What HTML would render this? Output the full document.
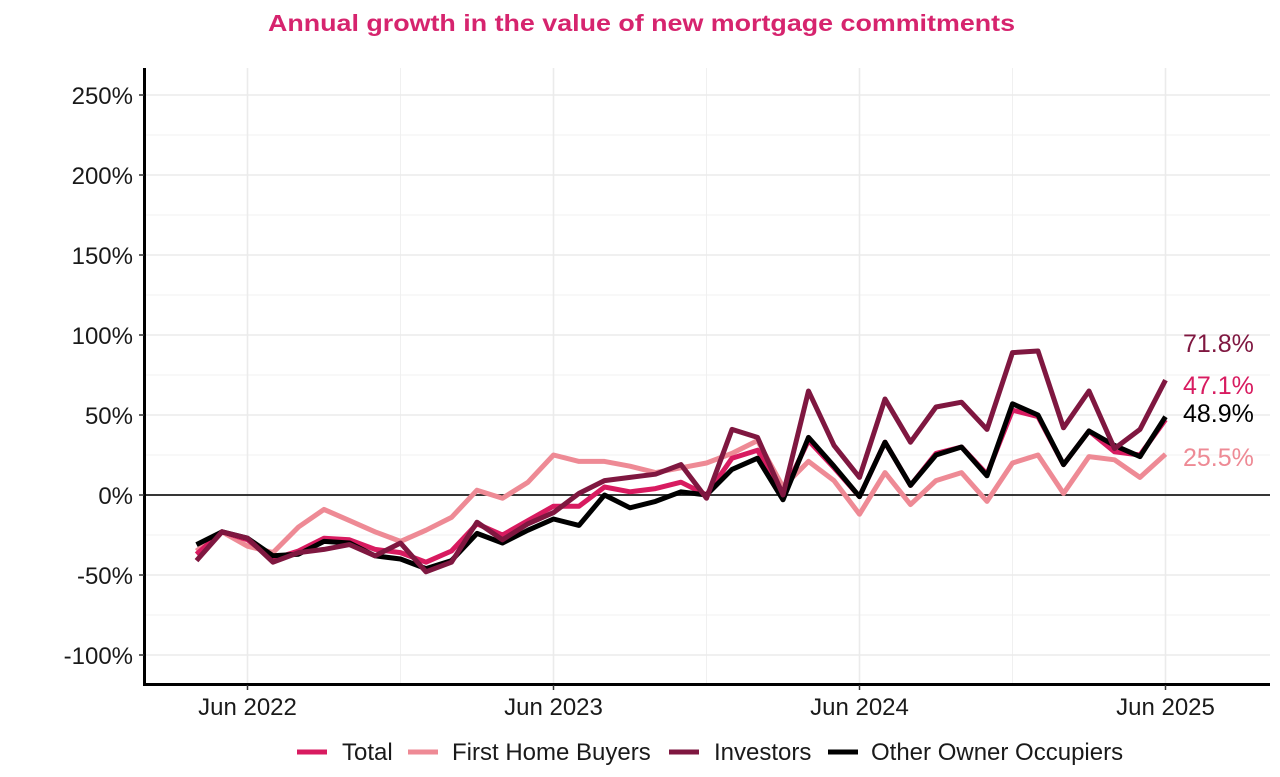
<!DOCTYPE html>
<html>
<head>
<meta charset="utf-8">
<style>
  html, body { margin: 0; padding: 0; background: #ffffff; }
  svg { display: block; }
  text { font-family: "Liberation Sans", Arial, sans-serif; }
</style>
</head>
<body>
<svg width="1280" height="777" viewBox="0 0 1280 777" xmlns="http://www.w3.org/2000/svg">
  <rect x="0" y="0" width="1280" height="777" fill="#ffffff"/>

  <!-- Title -->
  <text x="268" y="31" font-size="23" font-weight="bold" fill="#D6246E" textLength="747" lengthAdjust="spacingAndGlyphs">Annual growth in the value of new mortgage commitments</text>

  <!-- minor gridlines -->
  <g stroke="#f0f0f0" stroke-width="1">
    <line x1="145" x2="1270" y1="135" y2="135"/>
    <line x1="145" x2="1270" y1="215" y2="215"/>
    <line x1="145" x2="1270" y1="295" y2="295"/>
    <line x1="145" x2="1270" y1="375" y2="375"/>
    <line x1="145" x2="1270" y1="455" y2="455"/>
    <line x1="145" x2="1270" y1="535" y2="535"/>
    <line x1="145" x2="1270" y1="615" y2="615"/>
    <line x1="400.5" x2="400.5" y1="68" y2="684"/>
    <line x1="706.5" x2="706.5" y1="68" y2="684"/>
    <line x1="1012.5" x2="1012.5" y1="68" y2="684"/>
  </g>
  <!-- major gridlines -->
  <g stroke="#ebebeb" stroke-width="1.6">
    <line x1="145" x2="1270" y1="95" y2="95"/>
    <line x1="145" x2="1270" y1="175" y2="175"/>
    <line x1="145" x2="1270" y1="255" y2="255"/>
    <line x1="145" x2="1270" y1="335" y2="335"/>
    <line x1="145" x2="1270" y1="415" y2="415"/>
    <line x1="145" x2="1270" y1="575" y2="575"/>
    <line x1="145" x2="1270" y1="655" y2="655"/>
    <line x1="247.5" x2="247.5" y1="68" y2="684"/>
    <line x1="553.5" x2="553.5" y1="68" y2="684"/>
    <line x1="859.5" x2="859.5" y1="68" y2="684"/>
    <line x1="1165.5" x2="1165.5" y1="68" y2="684"/>
  </g>

  <!-- zero line -->
  <line x1="145" x2="1270" y1="495" y2="495" stroke="#1a1a1a" stroke-width="1.8"/>

  <!-- Series -->
  <g transform="translate(196.5,495) scale(25.5,-1.6)" fill="none" stroke-linejoin="round" stroke-linecap="butt">
    <polyline vector-effect="non-scaling-stroke" stroke="#EE8A95" stroke-width="5"
      points="0,-35 1,-23 2,-32 3,-36 4,-20 5,-9 6,-16 7,-23 8,-29 9,-22 10,-14 11,3 12,-2 13,8 14,25 15,21 16,21 17,18 18,14 19,17 20,20 21,26 22,34 23,5 24,21 25,9 26,-12 27,14 28,-6 29,9 30,14 31,-4 32,20 33,25 34,1 35,24 36,22 37,11 38,25.5"/>
    <polyline vector-effect="non-scaling-stroke" stroke="#D81B60" stroke-width="5"
      points="0,-37 1,-23 2,-28 3,-40 4,-35 5,-27 6,-28 7,-34 8,-36 9,-42 10,-35 11,-18 12,-25 13,-16 14,-7 15,-7 16,5 17,2 18,4 19,8 20,0 21,23 22,28 23,1 24,34 25,17 26,-1 27,33 28,6 29,26 30,30 31,13 32,53 33,49 34,19 35,40 36,27 37,25 38,47.1"/>
    <polyline vector-effect="non-scaling-stroke" stroke="#000000" stroke-width="5"
      points="0,-31 1,-23 2,-27 3,-38 4,-37 5,-29 6,-30 7,-38 8,-40 9,-46 10,-41 11,-24 12,-30 13,-22 14,-15 15,-19 16,0 17,-8 18,-4 19,2 20,0 21,16 22,23 23,-3 24,36 25,18 26,-1 27,33 28,6 29,25 30,30 31,12 32,57 33,50 34,19 35,40 36,31 37,24 38,48.9"/>
    <polyline vector-effect="non-scaling-stroke" stroke="#7F1740" stroke-width="5"
      points="0,-41 1,-23 2,-27 3,-42 4,-36 5,-34 6,-31 7,-38 8,-30 9,-48 10,-42 11,-17 12,-28 13,-18 14,-11 15,1 16,9 17,11 18,13 19,19 20,-2 21,41 22,36 23,0 24,65 25,31 26,11 27,60 28,33 29,55 30,58 31,41 32,89 33,90 34,42 35,65 36,29 37,41 38,71.8"/>
  </g>

  <!-- End labels -->
  <g font-size="25">
    <text x="1183" y="352" fill="#7F1740">71.8%</text>
    <text x="1183" y="394" fill="#D81B60">47.1%</text>
    <text x="1183" y="422" fill="#000000">48.9%</text>
    <text x="1183" y="466" fill="#EE8A95">25.5%</text>
  </g>

  <!-- Axes -->
  <line x1="144.5" x2="144.5" y1="68" y2="686" stroke="#000" stroke-width="3"/>
  <line x1="143" x2="1270" y1="684.5" y2="684.5" stroke="#000" stroke-width="3"/>

  <!-- ticks -->
  <g stroke="#333" stroke-width="1.5">
    <line x1="139" x2="144" y1="95" y2="95"/>
    <line x1="139" x2="144" y1="175" y2="175"/>
    <line x1="139" x2="144" y1="255" y2="255"/>
    <line x1="139" x2="144" y1="335" y2="335"/>
    <line x1="139" x2="144" y1="415" y2="415"/>
    <line x1="139" x2="144" y1="495" y2="495"/>
    <line x1="139" x2="144" y1="575" y2="575"/>
    <line x1="139" x2="144" y1="655" y2="655"/>
    <line x1="247.5" x2="247.5" y1="685" y2="690"/>
    <line x1="553.5" x2="553.5" y1="685" y2="690"/>
    <line x1="859.5" x2="859.5" y1="685" y2="690"/>
    <line x1="1165.5" x2="1165.5" y1="685" y2="690"/>
  </g>

  <!-- y labels -->
  <g font-size="24" fill="#1a1a1a" text-anchor="end">
    <text x="133" y="104">250%</text>
    <text x="133" y="184">200%</text>
    <text x="133" y="264">150%</text>
    <text x="133" y="344">100%</text>
    <text x="133" y="424">50%</text>
    <text x="133" y="504">0%</text>
    <text x="133" y="584">-50%</text>
    <text x="133" y="664">-100%</text>
  </g>

  <!-- x labels -->
  <g font-size="24" fill="#1a1a1a" text-anchor="middle">
    <text x="247.5" y="715">Jun 2022</text>
    <text x="553.5" y="715">Jun 2023</text>
    <text x="859.5" y="715">Jun 2024</text>
    <text x="1165.5" y="715">Jun 2025</text>
  </g>

  <!-- Legend -->
  <g stroke-width="5">
    <line x1="297" x2="327" y1="752" y2="752" stroke="#D81B60"/>
    <line x1="408" x2="438" y1="752" y2="752" stroke="#EE8A95"/>
    <line x1="669" x2="699" y1="752" y2="752" stroke="#7F1740"/>
    <line x1="828" x2="858" y1="752" y2="752" stroke="#000000"/>
  </g>
  <g font-size="24" fill="#1a1a1a">
    <text x="342" y="760">Total</text>
    <text x="452" y="760">First Home Buyers</text>
    <text x="714" y="760">Investors</text>
    <text x="871" y="760">Other Owner Occupiers</text>
  </g>
</svg>
</body>
</html>
